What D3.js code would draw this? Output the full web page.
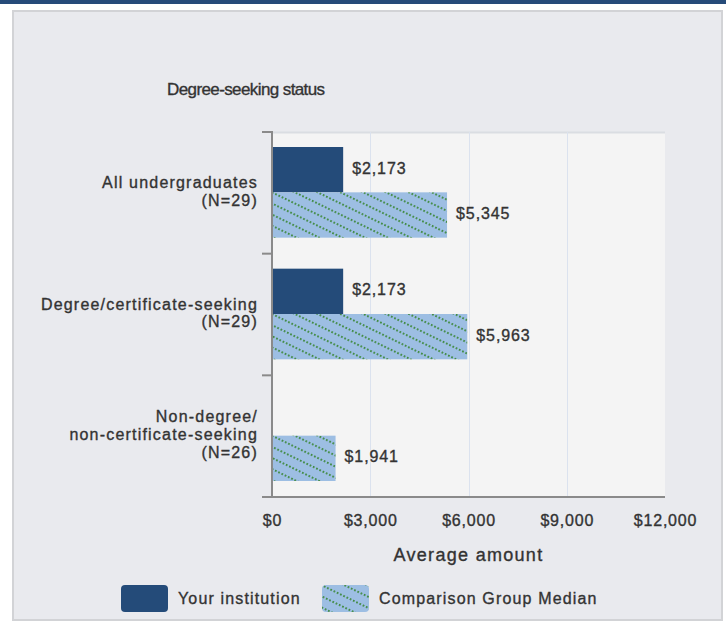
<!DOCTYPE html>
<html>
<head>
<meta charset="utf-8">
<script src="https://cdn.jsdelivr.net/npm/d3@7"></script>
<style>
  body { margin: 0; background: #fff; }
  svg text { font-family: "Liberation Sans", Arial, sans-serif; fill: #333; stroke: #333; stroke-width: 0.35px; }
</style>
</head>
<body>
<script>
// datos
var categories = ["All undergraduates|(N=29)", "Degree/certificate-seeking|(N=29)", "Non-degree/|non-certificate-seeking|(N=26)"];
var series = ["Your institution", "Comparison Group Median"];
var institution = [2173, 2173, null];
var comparison = [5345, 5963, 1941];
var xTicks = [0, 3000, 6000, 9000, 12000];

var W = 726, H = 622;
var plot = { left: 272, right: 665, top: 132, bottom: 497 };

var svg = d3.select("body").append("svg").attr("width", W).attr("height", H);

// pattern rayado del grupo de comparacion
var defs = svg.append("defs");
var pat = defs.append("pattern").attr("id", "hatch").attr("patternUnits", "userSpaceOnUse")
  .attr("width", 3.6).attr("height", 10).attr("patternTransform", "rotate(26)");
pat.append("rect").attr("width", 3.6).attr("height", 10).attr("fill", "#9dbee3");
pat.append("rect").attr("x", 0.9).attr("y", 4).attr("width", 1.7).attr("height", 1.9).attr("fill", "#3f8a3f");

// banda superior y panel
svg.append("rect").attr("x", 0).attr("y", 0).attr("width", W).attr("height", 4).attr("fill", "#264b79");
svg.append("rect").attr("x", 13).attr("y", 11).attr("width", 709).attr("height", 609)
  .attr("fill", "#e9eaee").attr("stroke", "#d2d3d6").attr("stroke-width", 2);

var x = d3.scaleLinear().domain([0, 12000]).range([plot.left, plot.right]);
var y0 = d3.scaleBand().domain(categories).range([plot.top, plot.bottom]);
var y1 = d3.scaleBand().domain(series).range([15, y0.bandwidth() - 16]);

svg.append("rect").attr("x", plot.left).attr("y", plot.top)
  .attr("width", plot.right - plot.left).attr("height", plot.bottom - plot.top).attr("fill", "#f4f4f4");
svg.append("line").attr("x1", plot.left).attr("x2", plot.right).attr("y1", plot.top + 0.5).attr("y2", plot.top + 0.5)
  .attr("stroke", "#dadde2").attr("stroke-width", 2);

// grilla
svg.selectAll("line.grid").data(xTicks.slice(1, -1)).enter().append("line").attr("class", "grid")
  .attr("x1", function (d) { return Math.round(x(d)) + 0.5; })
  .attr("x2", function (d) { return Math.round(x(d)) + 0.5; })
  .attr("y1", plot.top).attr("y2", plot.bottom)
  .attr("stroke", "#dbe2ee").attr("stroke-width", 1);

var rows = categories.map(function (c, i) {
  return { cat: c, vals: [{ s: series[0], v: institution[i] }, { s: series[1], v: comparison[i] }] };
});

var g = svg.selectAll("g.cat").data(rows).enter().append("g").attr("class", "cat")
  .attr("transform", function (d) { return "translate(0," + y0(d.cat) + ")"; });

g.selectAll("rect").data(function (d) { return d.vals.filter(function (e) { return e.v != null; }); })
  .enter().append("rect")
  .attr("x", x(0)).attr("y", function (d) { return y1(d.s); })
  .attr("width", function (d) { return x(d.v) - x(0); })
  .attr("height", y1.bandwidth())
  .attr("fill", function (d) { return d.s == series[0] ? "#244b79" : "url(#hatch)"; });

g.selectAll("text.val").data(function (d) { return d.vals.filter(function (e) { return e.v != null; }); })
  .enter().append("text").attr("class", "val")
  .attr("x", function (d) { return x(d.v) + 9; })
  .attr("y", function (d) { return y1(d.s) + y1.bandwidth() / 2 + 4; })
  .style("font-size", "16px").style("letter-spacing", "0.9px")
  .text(function (d) { return d3.format("$,")(d.v); });

// etiquetas de categoria
g.each(function (d) {
  var lines = d.cat.split("|");
  var t = d3.select(this).append("text").attr("text-anchor", "end")
    .style("font-size", "16px").style("letter-spacing", "1.2px");
  lines.forEach(function (l, i) {
    t.append("tspan").attr("x", 258)
      .attr("y", y0.bandwidth() / 2 + (i - (lines.length - 1) / 2) * 17.7 + 4)
      .text(l);
  });
});

// ejes
var axis = svg.append("g").attr("transform", "translate(0," + plot.bottom + ")")
  .call(d3.axisBottom(x).tickValues(xTicks).tickSize(0).tickPadding(18).tickFormat(d3.format("$,")));
axis.select(".domain").remove();
axis.selectAll("text").attr("fill", "#333").style("font-size", "16px").style("letter-spacing", "0.8px")
  .style("font-family", "'Liberation Sans', Arial, sans-serif");

var bounds = categories.map(function (c) { return y0(c); }).concat([plot.bottom]);
svg.selectAll("line.ytick").data(bounds).enter().append("line").attr("class", "ytick")
  .attr("x1", 262).attr("x2", plot.left).attr("y1", function (d) { return d; }).attr("y2", function (d) { return d; })
  .attr("stroke", "#8a8a8a").attr("stroke-width", 2);
svg.append("line").attr("x1", plot.left).attr("x2", plot.left).attr("y1", plot.top - 1).attr("y2", plot.bottom)
  .attr("stroke", "#8a8a8a").attr("stroke-width", 2);
svg.append("line").attr("x1", 262).attr("x2", plot.right).attr("y1", plot.bottom).attr("y2", plot.bottom)
  .attr("stroke", "#8a8a8a").attr("stroke-width", 2);

// titulos
svg.append("text").attr("x", 167).attr("y", 95).style("font-size", "17px").style("letter-spacing", "-0.6px")
  .text("Degree-seeking status");
svg.append("text").attr("x", (plot.left + plot.right) / 2).attr("y", 561).attr("text-anchor", "middle")
  .style("font-size", "18px").style("letter-spacing", "1.3px").text("Average amount");

// leyenda
var legend = svg.append("g").attr("id", "legend");
var legX = [121, 322];
series.forEach(function (s, i) {
  legend.append("rect").attr("x", legX[i]).attr("y", 585).attr("width", 47).attr("height", 27).attr("rx", 4)
    .attr("fill", i == 0 ? "#244b79" : "url(#hatch)");
  legend.append("text").attr("x", legX[i] + 57).attr("y", 604).style("font-size", "16px").style("letter-spacing", "1.15px")
    .text(s);
});
</script>
</body>
</html>
